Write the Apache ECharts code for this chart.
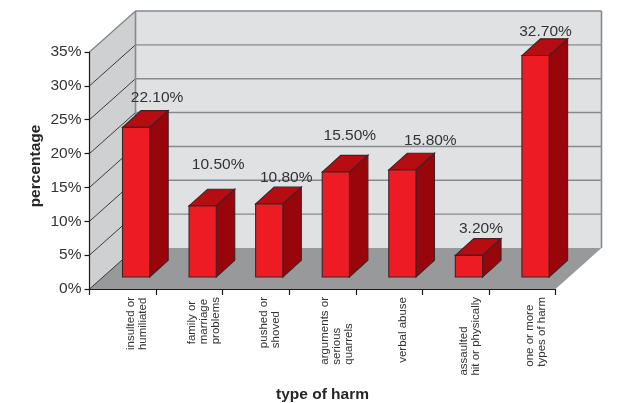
<!DOCTYPE html>
<html><head><meta charset="utf-8">
<style>html,body{margin:0;padding:0;background:#fff}#c{width:624px;height:403px}</style>
<script src="https://cdn.jsdelivr.net/npm/echarts@6/dist/echarts.min.js"></script>
</head><body><div id="c"></div>
<script>
const categories = ['insulted or\nhumiliated','family or\nmarriage\nproblems','pushed or\nshoved','arguments or\nserious\nquarrels','verbal abuse','assaulted\nhit or physically','one or more\ntypes of harm'];
const values = [22.1,10.5,10.8,15.5,15.8,3.2,32.7];
const yTicks = [0,5,10,15,20,25,30,35];
// hand placement of value labels relative to bar front-top centre
const labelDx = [21,15.5,17,14,28,12,10];
const labelDy = [-30,-41,-26,-36,-29,-27,-24];
const DX=46, DY=41;
const chart = echarts.init(document.getElementById('c'),null,{renderer:'canvas'});
const poly=(pts,fill,stroke,lw)=>({type:'polygon',shape:{points:pts},style:{fill:fill,stroke:stroke||null,lineWidth:lw||0}});
const line=(a,b,stroke,lw)=>({type:'line',shape:{x1:a[0],y1:a[1],x2:b[0],y2:b[1]},style:{stroke:stroke,lineWidth:lw}});
function renderWalls(params,api){
  const band=api.size([1,0])[0];
  const L=api.coord([0,0])[0]-band/2, R=api.coord([categories.length-1,0])[0]+band/2;
  const y0=api.coord([0,0])[1], yT=api.coord([0,35])[1];
  const ch=[];
  ch.push(poly([[L,y0],[L,yT],[L+DX,yT-DY],[L+DX,y0-DY]],'#cfd0d2'));
  ch.push(poly([[L+DX,y0-DY],[L+DX,yT-DY],[R+DX,yT-DY],[R+DX,y0-DY]],'#e0e1e3'));
  ch.push(poly([[L,y0],[L+DX,y0-DY],[R+DX,y0-DY],[R,y0]],'#98999b'));
  yTicks.forEach(t=>{
    const y=api.coord([0,t])[1];
    if(t>0){
      ch.push(line([L+DX,y-DY],[R+DX,y-DY],'#848a90',1.4));
      ch.push(line([L,y],[L+DX,y-DY],t===35?'#7d838a':'#2a2a2a',t===35?1.2:0.9));
    } else {
      ch.push(line([L,y],[L+DX,y-DY],'#2a2a2a',0.9));
    }
  });
  ch.push(line([L+DX,yT-DY],[L+DX,y0-DY],'#848a90',1.6));
  ch.push(line([R+DX,yT-DY],[R+DX,y0-DY],'#848a90',1.6));
  return {type:'group',children:ch};
}
function renderBars(params,api){
  const i=api.value(0), v=api.value(1);
  const cx=api.coord([i,0])[0];
  const w=27.2, bx=cx-0.3, dx=18.5, dy=16.7;
  const base=api.coord([i,0])[1]-12, top=base-(api.coord([i,0])[1]-api.coord([i,v])[1]);
  const s='#3d2326', lw=1.1;
  const ch=[
    poly([[bx,top],[bx+dx,top-dy],[bx+w+dx,top-dy],[bx+w,top]],'#b60d13',s,lw),
    poly([[bx+w,top],[bx+w+dx,top-dy],[bx+w+dx,base-dy],[bx+w,base]],'#98050a',s,lw),
    poly([[bx,top],[bx+w,top],[bx+w,base],[bx,base]],'#ed1c24',s,lw),
    {type:'text',z2:10,style:{text:v.toFixed(2)+'%',x:bx+w/2+labelDx[i],y:top+labelDy[i],align:'center',verticalAlign:'middle',
      font:'15.5px "Liberation Sans"',fill:'#333333'}}
  ];
  return {type:'group',children:ch};
}
chart.setOption({
  animation:false,
  backgroundColor:'#ffffff',
  grid:{left:89.5,right:68.5,top:52,bottom:114,containLabel:false,outerBoundsMode:'none'},
  textStyle:{fontFamily:'Liberation Sans'},
  xAxis:{type:'category',z:10,
    data:categories,
    boundaryGap:true,
    axisLine:{lineStyle:{color:'#1a1a1a',width:1.2}},
    axisTick:{show:true,length:6,lineStyle:{color:'#1a1a1a',width:1.2},alignWithLabel:false},
    axisLabel:{interval:0,rotate:90,margin:8,hideOverlap:false,padding:[28,0,0,0],verticalAlign:'middle',
      formatter:v=>v.split('\n').map(s=>'{l|'+s+'}').join('\n'),
      rich:{l:{align:'left',fontSize:11.5,lineHeight:12,color:'#333333',fontFamily:'Liberation Sans'}}},
    name:'type of harm',nameLocation:'middle',nameGap:98,
    nameTextStyle:{fontSize:15.5,fontWeight:'bold',color:'#262626',fontFamily:'Liberation Sans'}
  },
  yAxis:{type:'value',min:0,max:35,interval:5,z:10,
    axisLine:{show:true,lineStyle:{color:'#1a1a1a',width:1.2}},
    axisTick:{show:true,length:5,lineStyle:{color:'#1a1a1a',width:1.2}},
    splitLine:{show:false},
    axisLabel:{formatter:'{value}%',margin:8,fontSize:15.5,color:'#333333',fontFamily:'Liberation Sans'},
    name:'percentage',nameLocation:'middle',nameGap:46,nameRotate:90,nameMoveOverlap:false,
    nameTextStyle:{fontSize:15.5,fontWeight:'bold',color:'#262626',fontFamily:'Liberation Sans',padding:[0,0,0,9]}
  },
  series:[
    {type:'custom',z:1,silent:true,data:[[0,0]],renderItem:renderWalls,clip:false},
    {type:'custom',z:2,silent:true,data:values.map((v,i)=>[i,v]),renderItem:renderBars,clip:false,encode:{x:0,y:1}}
  ]
});
</script></body></html>
